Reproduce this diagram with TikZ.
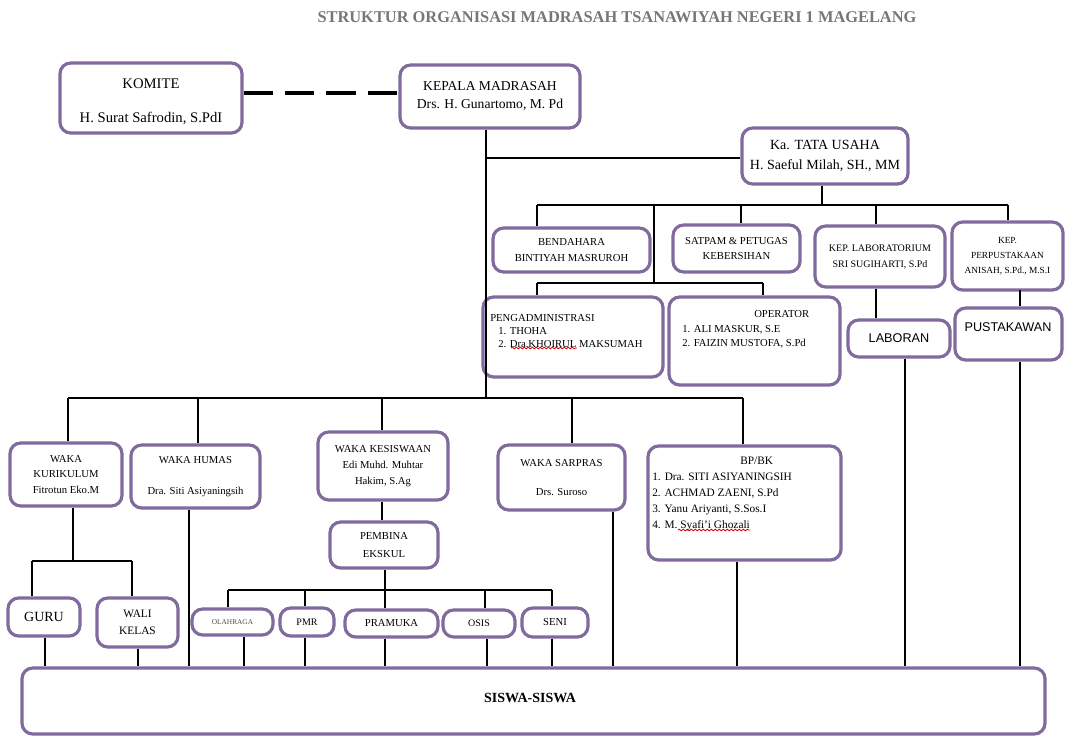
\documentclass[tikz,border=0pt]{standalone}
\usepackage{fontspec}
\setmainfont{Liberation Serif}
\newfontfamily\sansf{Liberation Sans}
\usetikzlibrary{decorations.pathmorphing}
\definecolor{boxc}{RGB}{128,106,158}
\definecolor{titlec}{RGB}{118,118,118}
\tikzset{
  box/.style={draw=boxc, line width=2.4pt, rounded corners=8pt, inner sep=0pt, align=center, fill=white},
  conn/.style={draw=black, line width=2.2pt},
  txt/.style={inner sep=0pt, align=left, anchor=north west},
  squig/.style={draw=red!85!black, line width=0.6pt, decorate, decoration={snake, amplitude=0.6pt, segment length=3pt}},
}
\newcommand\obox[7][]{\node[box, minimum width={(#5-#3)*0.75pt}, minimum height={(#6-#4)*0.75pt}, #1] (#2) at ({(#3+#5)/2},{(#4+#6)/2}) {#7};}
\newcommand\fsz[2]{\fontsize{#1}{#2}\selectfont}
\begin{document}
\begin{tikzpicture}[x=0.75pt,y=-0.75pt]
\useasboundingbox (0,0) rectangle (1065,736);
% title
\node[font=\fsz{12.3}{14}\bfseries, text=titlec] (title) at (617,17) {STRUKTUR ORGANISASI MADRASAH TSANAWIYAH NEGERI 1 MAGELANG};
% top level
\obox[font=\fsz{11}{14}]{komite}{60}{63}{242}{133}{\rule{0pt}{13pt}KOMITE\\[12pt]H. Surat Safrodin, S.PdI}
\obox[font=\fsz{10.2}{13.5}]{kepala}{400}{65}{580}{128}{KEPALA MADRASAH\\Drs. H. Gunartomo, M. Pd}
\obox[font=\fsz{10.5}{15.5}]{tu}{742}{128}{908}{184}{Ka. TATA USAHA\\H. Saeful Milah, SH., MM}
% TU row
\obox[font=\fsz{8}{12}]{bend}{493}{228}{650}{272}{BENDAHARA\\BINTIYAH MASRUROH}
\obox[font=\fsz{8}{11.5}]{satpam}{673}{225}{800}{272}{SATPAM \& PETUGAS\\KEBERSIHAN}
\obox[font=\fsz{7.5}{12}]{keplab}{815}{226}{945}{287}{KEP. LABORATORIUM\\SRI SUGIHARTI, S.Pd}
\obox[font=\fsz{7}{11.5}]{kepper}{952}{222}{1063}{290}{KEP.\\PERPUSTAKAAN\\ANISAH, S.Pd., M.S.I}
\obox{pengad}{483}{297}{663}{377}{}
\node[txt, font=\fsz{8}{9.8}] (pengadt) at (490,314) {PENGADMINISTRASI\\\hspace*{6pt}1. THOHA\\\hspace*{6pt}2. Dra.KHOIRUL MAKSUMAH};
\obox{oper}{669}{297}{840}{385}{}
\node[txt, font=\fsz{8}{11}] (opert) at (682,310) {\hspace*{54pt}OPERATOR\\1. ALI MASKUR, S.E\\2. FAIZIN MUSTOFA, S.Pd};
\obox[font=\sansf\fsz{9.5}{11}]{labor}{848}{320}{950}{357}{LABORAN}
\obox{pustak}{955}{308}{1062}{360}{}
\node[font=\sansf\fsz{9.5}{11}] (pustakt) at (1008,327) {PUSTAKAWAN};
% wakas
\obox[font=\fsz{8}{11.5}]{wk}{10}{443}{122}{506}{WAKA\\KURIKULUM\\Fitrotun Eko.M}
\obox[font=\fsz{8}{10}]{wh}{131}{445}{260}{508}{WAKA HUMAS\\[13pt]Dra. Siti Asiyaningsih}
\obox[font=\fsz{8}{12}]{wkes}{318}{432}{448}{500}{WAKA KESISWAAN\\Edi Muhd. Muhtar\\Hakim, S.Ag}
\obox[font=\fsz{8}{13.5}]{pemb}{330}{522}{438}{568}{PEMBINA\\EKSKUL}
\obox[font=\fsz{8}{10}]{ws}{498}{445}{625}{510}{WAKA SARPRAS\\[12pt]Drs. Suroso}
\obox{bpbk}{648}{446}{841}{560}{}
\node[txt, font=\fsz{8.5}{12}] (bpbkt) at (652,457) {\hspace*{66pt}BP/BK\\1.\hspace{3pt}Dra. SITI ASIYANINGSIH\\2. ACHMAD ZAENI, S.Pd\\3. Yanu Ariyanti, S.Sos.I\\4. M. Syafi'i Ghozali};
% lower
\obox[font=\fsz{10.5}{12}]{guru}{8}{598}{80}{636}{GURU}
\obox[font=\fsz{8.5}{13}]{wali}{97}{598}{178}{647}{WALI\\KELAS}
\obox[font=\fsz{5.5}{7}, text=black!70]{olah}{192}{609}{273}{635}{OLAHRAGA}
\obox[font=\fsz{7.5}{9}]{pmr}{280}{608}{334}{636}{PMR}
\obox[font=\fsz{8}{9}]{pram}{345}{610}{438}{637}{PRAMUKA}
\obox[font=\fsz{7.5}{9}]{osis}{443}{610}{515}{637}{OSIS}
\obox[font=\fsz{8}{9}]{seni}{522}{608}{588}{637}{SENI}
\obox{siswa}{22}{668}{1045}{734}{}
\node[font=\fsz{10.5}{12}\bfseries] (siswat) at (530,698) {SISWA-SISWA};
% spell-check squiggles
\draw[squig] (511,348) -- (577,348);
\draw[squig] (678,530) -- (750,530);
% connectors
\draw[conn, dash pattern=on 22pt off 9pt, line width=3pt] (komite.east |- 0,93) -- (kepala.west |- 0,93);
\coordinate (sp) at (486,398);
\coordinate (tuj) at (486,158);
\draw[conn] (kepala.south -| sp) -- (sp);
\draw[conn] (tuj) -- (tuj -| tu.west);
\coordinate (tub) at (822,205);
\coordinate (tbL) at (537,205);
\coordinate (tbR) at (1008,205);
\coordinate (tb2) at (654,205);
\coordinate (tb3) at (741,205);
\coordinate (tb4) at (876,205);
\draw[conn] (tu.south -| tub) -- (tub);
\draw[conn] (tbL) -- (tbR);
\draw[conn] (tbL) -- (tbL |- bend.north);
\draw[conn] (tb3) -- (tb3 |- satpam.north);
\draw[conn] (tb4) -- (tb4 |- keplab.north);
\draw[conn] (tbR) -- (tbR |- kepper.north);
\coordinate (ab) at (654,283);
\coordinate (abL) at (537,283);
\coordinate (abR) at (763,283);
\draw[conn] (tb2) -- (ab);
\draw[conn] (abL) -- (abR);
\draw[conn] (abL) -- (abL |- pengad.north);
\draw[conn] (abR) -- (abR |- oper.north);
\draw[conn] (keplab.south -| tb4) -- (tb4 |- labor.north);
\coordinate (pk) at (1020,290);
\draw[conn] (pk) -- (pk |- pustak.north);
% main bus
\coordinate (mbL) at (68,398);
\coordinate (mb2) at (198,398);
\coordinate (mb3) at (382,398);
\coordinate (mb4) at (572,398);
\coordinate (mbR) at (743,398);
\draw[conn] (mbL) -- (mbR);
\draw[conn] (mbL) -- (mbL |- wk.north);
\draw[conn] (mb2) -- (mb2 |- wh.north);
\draw[conn] (mb3) -- (mb3 |- wkes.north);
\draw[conn] (mb4) -- (mb4 |- ws.north);
\draw[conn] (mbR) -- (mbR |- bpbk.north);
% kurikulum
\coordinate (kb) at (73,561);
\coordinate (kbL) at (32,561);
\coordinate (kbR) at (132,561);
\draw[conn] (wk.south -| kb) -- (kb);
\draw[conn] (kbL) -- (kbR);
\draw[conn] (kbL) -- (kbL |- guru.north);
\draw[conn] (kbR) -- (kbR |- wali.north);
% kesiswaan
\draw[conn] (wkes.south -| mb3) -- (mb3 |- pemb.north);
\coordinate (eb) at (385,590);
\coordinate (ebL) at (228,590);
\coordinate (eb2) at (305,590);
\coordinate (eb4) at (485,590);
\coordinate (ebR) at (552,590);
\draw[conn] (pemb.south -| eb) -- (eb);
\draw[conn] (ebL) -- (ebR);
\draw[conn] (ebL) -- (ebL |- olah.north);
\draw[conn] (eb2) -- (eb2 |- pmr.north);
\draw[conn] (eb) -- (eb |- pram.north);
\draw[conn] (eb4) -- (eb4 |- osis.north);
\draw[conn] (ebR) -- (ebR |- seni.north);
% drops to siswa
\coordinate (d1) at (45,668);
\coordinate (d2) at (138,668);
\coordinate (d3) at (189,668);
\coordinate (d4) at (244,668);
\coordinate (d5) at (305,668);
\coordinate (d6) at (385,668);
\coordinate (d7) at (487,668);
\coordinate (d8) at (552,668);
\coordinate (d9) at (613,668);
\coordinate (d10) at (737,668);
\coordinate (d11) at (905,668);
\coordinate (d12) at (1020,668);
\draw[conn] (guru.south -| d1) -- (d1 |- siswa.north);
\draw[conn] (wali.south -| d2) -- (d2 |- siswa.north);
\draw[conn] (wh.south -| d3) -- (d3 |- siswa.north);
\draw[conn] (olah.south -| d4) -- (d4 |- siswa.north);
\draw[conn] (pmr.south -| d5) -- (d5 |- siswa.north);
\draw[conn] (pram.south -| d6) -- (d6 |- siswa.north);
\draw[conn] (osis.south -| d7) -- (d7 |- siswa.north);
\draw[conn] (seni.south -| d8) -- (d8 |- siswa.north);
\draw[conn] (ws.south -| d9) -- (d9 |- siswa.north);
\draw[conn] (bpbk.south -| d10) -- (d10 |- siswa.north);
\draw[conn] (labor.south -| d11) -- (d11 |- siswa.north);
\draw[conn] (pustak.south -| d12) -- (d12 |- siswa.north);
\end{tikzpicture}
\end{document}
